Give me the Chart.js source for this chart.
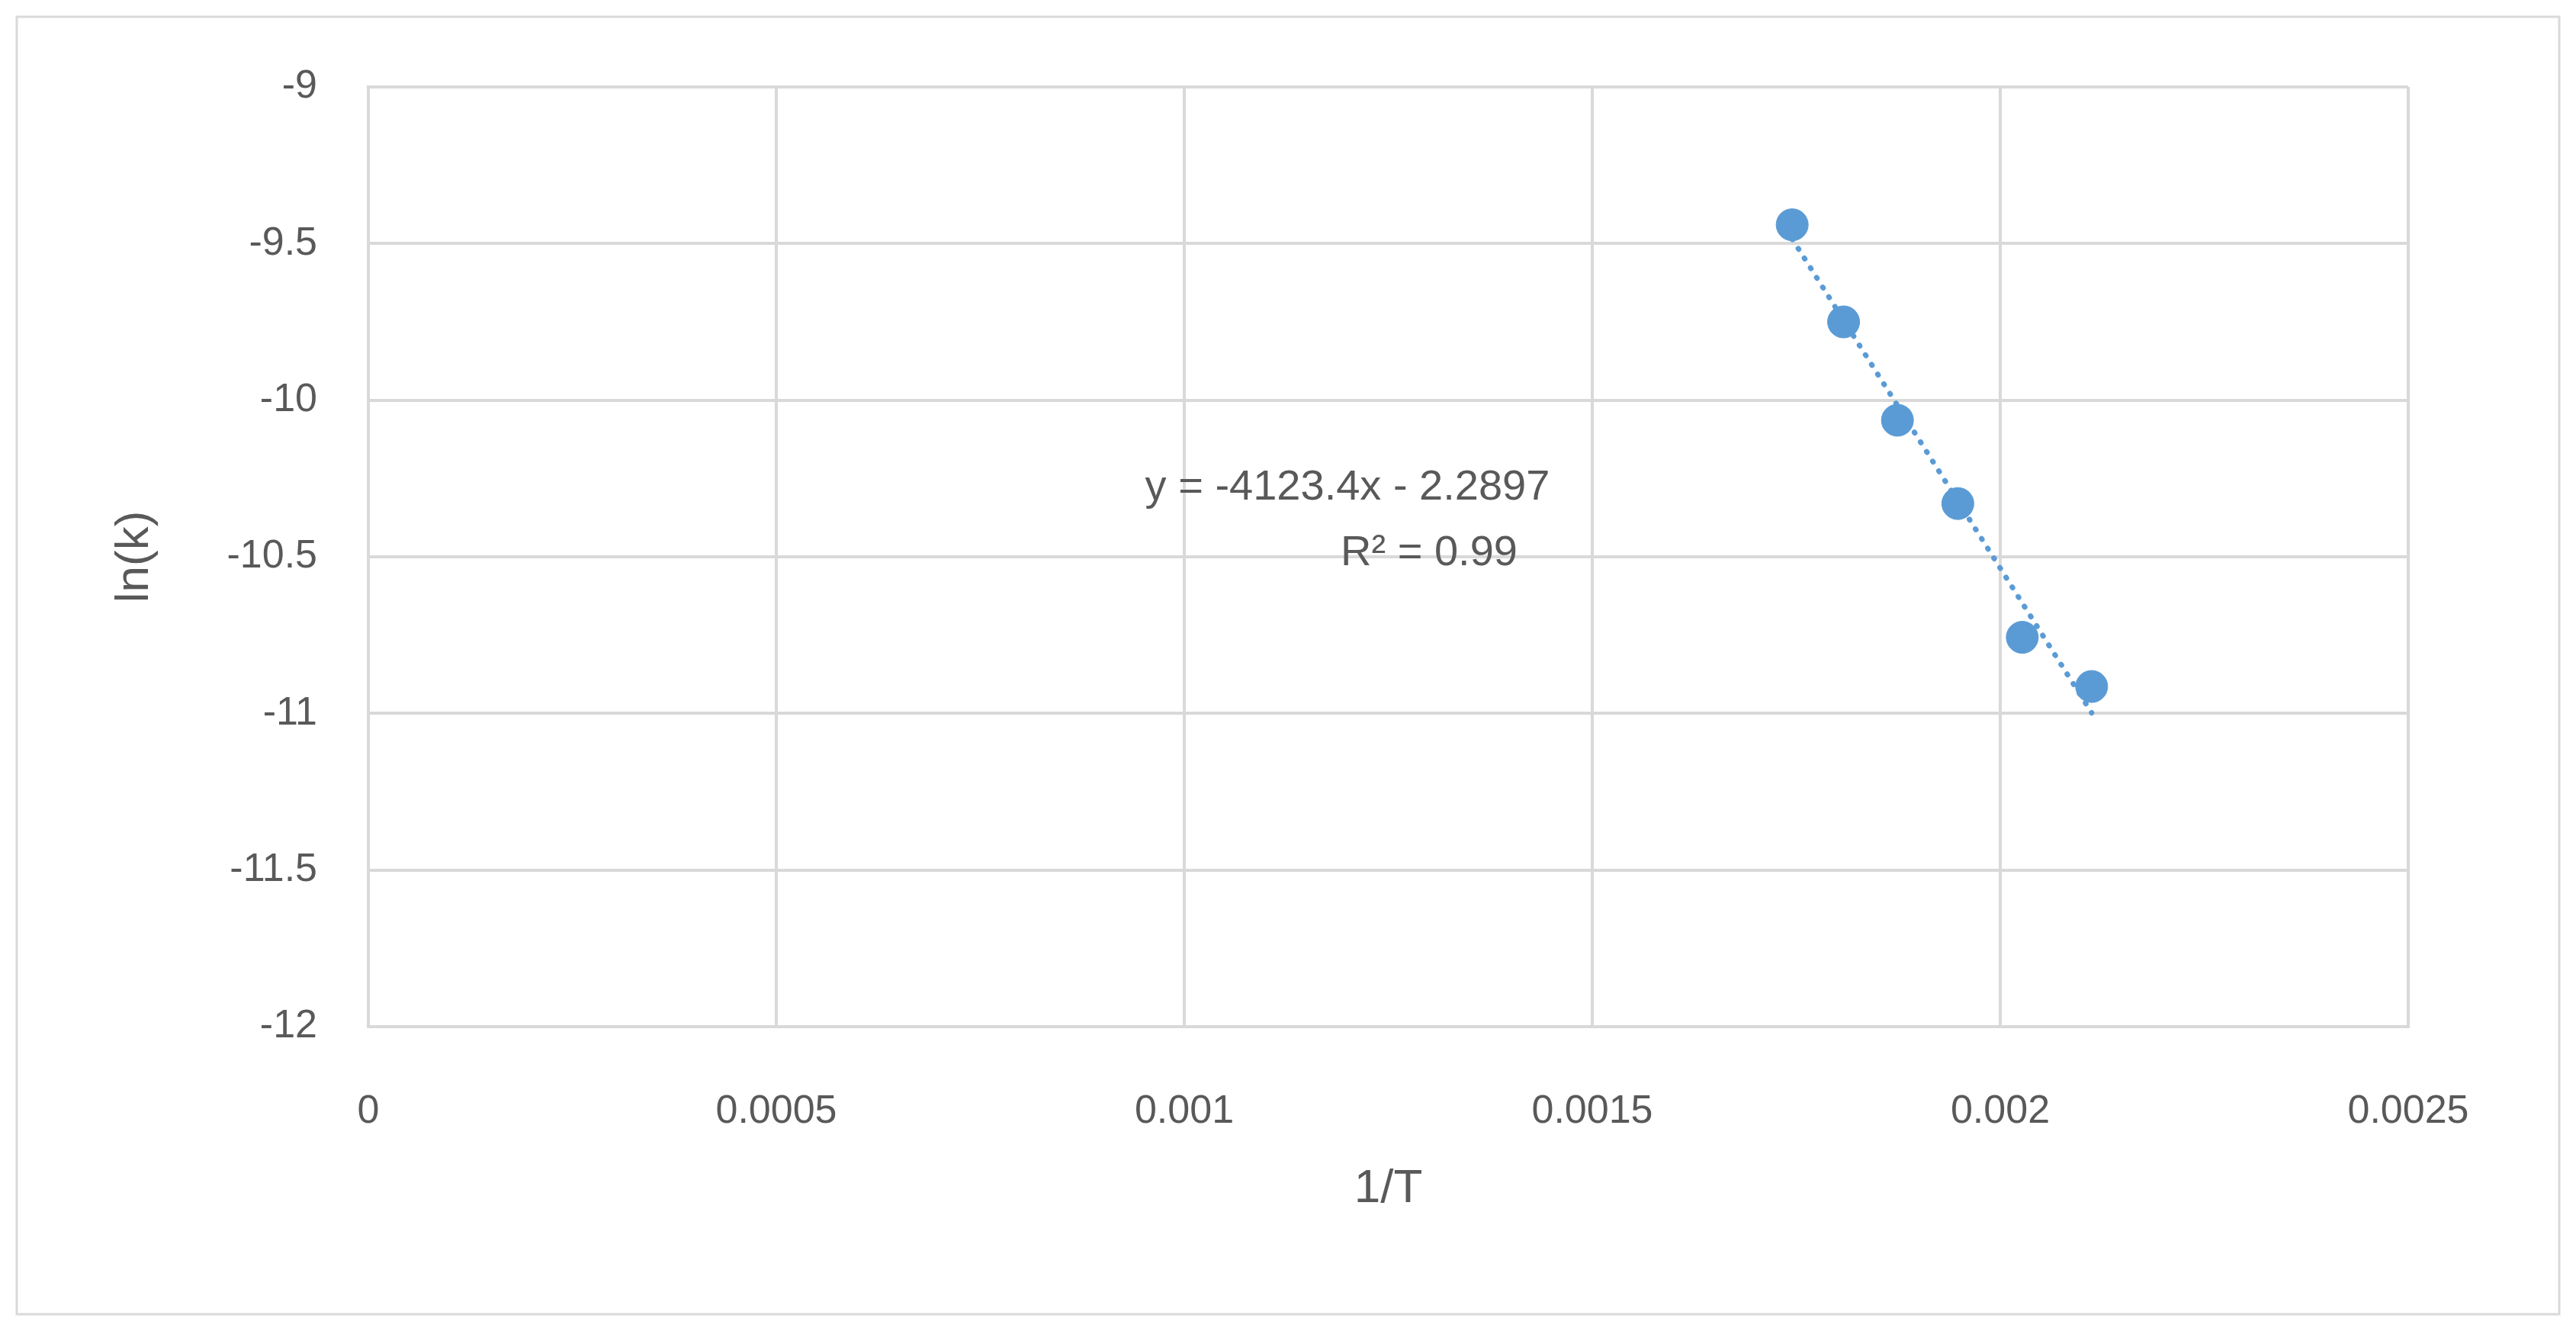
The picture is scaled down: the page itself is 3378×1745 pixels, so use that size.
<!DOCTYPE html>
<html>
<head>
<meta charset="utf-8">
<script src="https://cdn.jsdelivr.net/npm/chart.js@4/dist/chart.umd.min.js"></script>
<style>
  html, body { margin: 0; padding: 0; background: #fff; }
  #wrap { width: 3378px; height: 1745px; }
</style>
</head>
<body>
<div id="wrap"><canvas id="c" width="3378" height="1745"></canvas></div>
<script>
// data
const invT = [0.001745, 0.001808, 0.001874, 0.001948, 0.002027, 0.002112];
const lnK = [-9.44, -9.75, -10.064, -10.33, -10.757, -10.914];
const trendX = [0.001745, 0.002112];
const trendY = [-9.485, -10.998];
const eqText = "y = -4123.4x - 2.2897";
const r2Text = "R² = 0.99";

const FONT = "'Liberation Sans', 'Open Sans', sans-serif";
const TXT = "#595959";
const fmt = v => String(+Number(v).toFixed(6));

// outer frame + trendline label
const extras = {
  id: "extras",
  beforeDraw(chart) {
    const c = chart.ctx;
    c.save();
    c.fillStyle = "#fff";
    c.fillRect(0, 0, chart.width, chart.height);
    c.strokeStyle = "#d9d9d9";
    c.lineWidth = 3;
    c.strokeRect(22, 22, chart.width - 44, chart.height - 44);
    c.restore();
  },
  afterDatasetsDraw(chart) {
    const c = chart.ctx, xs = chart.scales.x, ys = chart.scales.y;
    c.save();
    c.fillStyle = TXT;
    c.font = "56px " + FONT;
    c.textAlign = "center";
    c.textBaseline = "middle";
    c.fillText(eqText, xs.getPixelForValue(0.0012), ys.getPixelForValue(-10.28));
    c.fillText(r2Text, xs.getPixelForValue(0.0013), ys.getPixelForValue(-10.49));
    c.restore();
  }
};

new Chart(document.getElementById("c").getContext("2d"), {
  type: "scatter",
  data: {
    datasets: [
      {
        data: invT.map((x, i) => ({ x, y: lnK[i] })),
        backgroundColor: "#5b9bd5",
        borderColor: "#5b9bd5",
        pointRadius: 21,
        order: 2
      },
      {
        type: "line",
        data: trendX.map((x, i) => ({ x, y: trendY[i] })),
        borderColor: "#5b9bd5",
        borderWidth: 7,
        borderDash: [1, 14],
        borderCapStyle: "round",
        pointRadius: 0,
        fill: false,
        order: 1
      }
    ]
  },
  options: {
    responsive: false,
    animation: false,
    layout: { padding: { top: 114, right: 220, left: 140, bottom: 149 } },
    plugins: { legend: { display: false }, tooltip: { enabled: false } },
    scales: {
      x: {
        type: "linear",
        min: 0, max: 0.0025,
        ticks: { stepSize: 0.0005, color: TXT, font: { size: 52, family: FONT }, padding: 80, callback: fmt },
        grid: { color: "#d9d9d9", lineWidth: 4, drawTicks: false },
        border: { color: "#d9d9d9", width: 4 },
        title: { display: true, text: "1/T", color: TXT, font: { size: 62, family: FONT }, padding: 0 },
        afterFit(s) { s.height = 250; }
      },
      y: {
        min: -12, max: -9,
        ticks: { stepSize: 0.5, color: TXT, font: { size: 52, family: FONT }, padding: 67, callback: fmt },
        grid: { color: "#d9d9d9", lineWidth: 4, drawTicks: false },
        border: { color: "#d9d9d9", width: 4 },
        title: { display: true, text: "ln(k)", color: TXT, font: { size: 62, family: FONT }, padding: 0 },
        afterFit(s) { s.width = 343; }
      }
    }
  },
  plugins: [extras]
});
</script>
</body>
</html>
